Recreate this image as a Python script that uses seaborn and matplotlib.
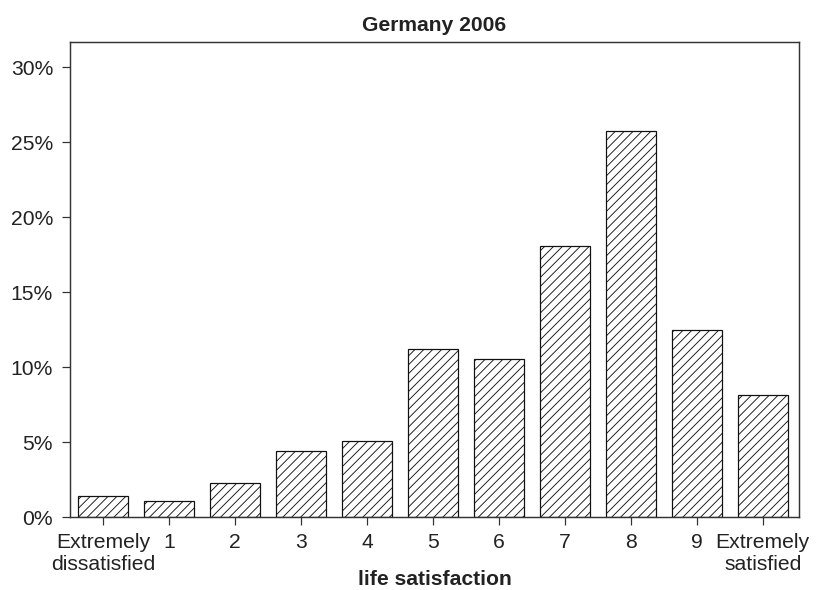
import matplotlib
matplotlib.use("Agg")
import matplotlib.pyplot as plt
import seaborn as sns
import pandas as pd
from matplotlib.ticker import FuncFormatter

categories = ["Extremely\ndissatisfied", "1", "2", "3", "4", "5", "6", "7", "8", "9",
              "Extremely\nsatisfied"]
values = [1.44, 1.07, 2.27, 4.40, 5.09, 11.24, 10.55, 18.10, 25.77, 12.48, 8.15]
yticks = [0, 5, 10, 15, 20, 25, 30]

sns.set_style("ticks")
plt.rcParams['font.family'] = ['Liberation Sans', 'DejaVu Sans']
plt.rcParams['hatch.linewidth'] = 0.8
plt.rcParams['hatch.color'] = '#111111'

df = pd.DataFrame({"cat": categories, "val": values})

DPI = 80
fig = plt.figure(figsize=(820 / DPI, 590 / DPI), dpi=DPI)
ax = fig.add_axes([70 / 820, 1 - 517.3 / 590, (799 - 70) / 820, (517.3 - 42) / 590])

sns.barplot(data=df, x="cat", y="val", order=categories, color="white",
            edgecolor="#111111", linewidth=1.1, width=0.76, ax=ax)
for p in ax.patches:
    p.set_hatch("///")
    p.set_facecolor("white")

ax.set_xlim(-0.5, 10.55)
ax.set_ylim(0, 31.69)
ax.set_yticks(yticks)
ax.yaxis.set_major_formatter(FuncFormatter(lambda v, pos: f"{int(v)}%"))

for s in ax.spines.values():
    s.set_visible(True)
    s.set_linewidth(1.3)
    s.set_color("#333333")

ax.tick_params(axis="both", length=7.2, width=1.1, color="#333333",
               labelsize=19, labelcolor="#222222")
ax.tick_params(axis="y", pad=8)
ax.tick_params(axis="x", pad=6.5)

ax.set_xlabel("life satisfaction", fontsize=19, fontweight="bold", color="#222222",
              labelpad=-3)
ax.set_ylabel("")
ax.set_title("Germany 2006", fontsize=19, fontweight="bold", color="#222222", pad=10)

fig.savefig("out.png", dpi=DPI)
